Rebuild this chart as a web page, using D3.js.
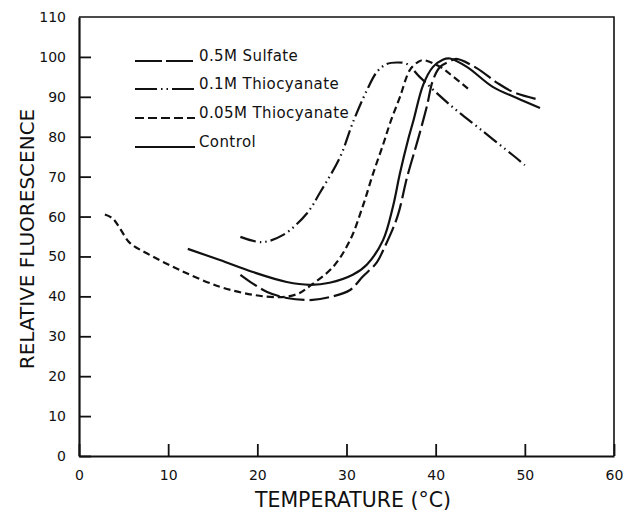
<!DOCTYPE html>
<html>
<head>
<meta charset="utf-8">
<script src="https://cdn.jsdelivr.net/npm/d3@7"></script>
<style>
  body { margin: 0; background: #fff; }
  text { font-family: "DejaVu Sans", sans-serif; fill: #111; }
</style>
</head>
<body>
<div id="chart"></div>
<script>
// data: temperature (°C) and relative fluorescence
const sulfateT = [18.1, 19.5, 21.1, 23.3, 26.2, 28.1, 30.4, 31.8, 33.4, 34.1, 35.7, 36.8, 38.0, 39.0, 39.7, 40.5, 41.6, 42.3, 44.6, 46.9, 48.7, 51.7];
const sulfateF = [45.4, 43.2, 41.1, 39.6, 39.1, 39.8, 41.6, 44.9, 48.5, 51.5, 59.9, 69.9, 79.2, 87.5, 94.2, 97.5, 98.9, 99.5, 97.2, 93.5, 91.2, 89.2];

const thio1T = [18.1, 20.5, 22.9, 25.6, 27.0, 29.3, 30.7, 32.3, 33.4, 34.5, 35.7, 36.8, 38.2, 41.6, 45.0, 48.7, 50.0];
const thio1F = [54.9, 53.6, 55.4, 60.9, 65.9, 75.0, 83.5, 91.7, 96.2, 98.2, 98.6, 98.2, 95.0, 88.0, 81.9, 75.3, 72.9];

const thio05T = [2.9, 3.8, 4.6, 5.7, 7.6, 11.3, 15.8, 19.5, 22.5, 24.5, 25.9, 28.5, 30.4, 31.8, 33.0, 34.1, 34.9, 36.0, 37.1, 38.0, 38.6, 40.5, 42.0, 43.8];
const thio05F = [60.5, 59.5, 57.0, 53.4, 50.8, 46.6, 42.4, 40.4, 39.8, 40.6, 42.6, 47.4, 54.1, 62.4, 70.9, 78.0, 83.5, 90.0, 96.7, 98.7, 99.2, 97.5, 95.0, 91.7];

const controlT = [12.2, 15.8, 19.5, 23.3, 25.9, 28.1, 30.7, 32.3, 34.1, 35.2, 36.0, 36.9, 37.5, 38.6, 39.7, 40.8, 41.6, 43.5, 46.4, 49.1, 51.7];
const controlF = [51.9, 49.1, 46.1, 43.6, 42.9, 43.4, 45.4, 48.0, 54.1, 62.4, 70.9, 79.2, 84.0, 93.0, 97.5, 99.3, 99.6, 97.5, 92.5, 89.7, 87.2];

const seriesNames = ["0.5M Sulfate", "0.1M Thiocyanate", "0.05M Thiocyanate", "Control"];
const xTicks = [0, 10, 20, 30, 40, 50, 60];
const yTicks = [0, 10, 20, 30, 40, 50, 60, 70, 80, 90, 100, 110];

const width = 625;
const height = 514;
const marginTop = 17;
const marginRight = 11;
const marginBottom = 58;
const marginLeft = 79;

const series = [
  { name: seriesNames[0], t: sulfateT, f: sulfateF, dash: "20,5", legendDash: "27,4" },
  { name: seriesNames[1], t: thio1T, f: thio1F, dash: "16,4,1.5,4,1.5,4", legendDash: "22,4,1.5,4,1.5,4" },
  { name: seriesNames[2], t: thio05T, f: thio05F, dash: "7,4", legendDash: "9,4" },
  { name: seriesNames[3], t: controlT, f: controlF, dash: null, legendDash: null }
];

const x = d3.scaleLinear().domain([0, 60]).range([marginLeft, width - marginRight]);
const y = d3.scaleLinear().domain([0, 110]).range([height - marginBottom, marginTop]);

const svg = d3.select("#chart").append("svg")
  .attr("width", width)
  .attr("height", height)
  .attr("viewBox", [0, 0, width, height]);

// frame: top and right plain lines
svg.append("path")
  .attr("d", `M${x(0)},${y(110)}H${x(60)}V${y(0)}`)
  .attr("fill", "none")
  .attr("stroke", "#111")
  .attr("stroke-width", 1.6);

// x axis, ticks pointing inward
svg.append("g")
  .attr("transform", `translate(0,${y(0)})`)
  .call(d3.axisBottom(x).tickValues(xTicks).tickSize(-12).tickPadding(11).tickSizeOuter(0))
  .call(g => g.select(".domain").attr("stroke-width", 2.2))
  .call(g => g.selectAll(".tick line").attr("stroke-width", 1.8))
  .call(g => g.selectAll(".tick text").attr("font-size", 14).attr("dy", "0.9em"));

// y axis, ticks pointing inward
svg.append("g")
  .attr("transform", `translate(${x(0)},0)`)
  .call(d3.axisLeft(y).tickValues(yTicks).tickSize(-12).tickPadding(13).tickSizeOuter(0))
  .call(g => g.select(".domain").attr("stroke-width", 2.2))
  .call(g => g.selectAll(".tick line").attr("stroke-width", 1.8))
  .call(g => g.selectAll(".tick").filter(d => d === 110).select("line").remove())
  .call(g => g.selectAll(".tick text").attr("font-size", 14));

svg.selectAll(".domain, .tick line").attr("stroke", "#111");

// axis titles
svg.append("text")
  .attr("x", 353)
  .attr("y", 507)
  .attr("text-anchor", "middle")
  .attr("font-size", 20.5)
  .text("TEMPERATURE (°C)");

svg.append("text")
  .attr("transform", "translate(34,239) rotate(-90)")
  .attr("text-anchor", "middle")
  .attr("font-size", 20)
  .text("RELATIVE FLUORESCENCE");

// curves
const line = d3.line()
  .x(d => x(d[0]))
  .y(d => y(d[1]))
  .curve(d3.curveCatmullRom.alpha(0.5));

svg.append("g")
  .selectAll("path")
  .data(series)
  .join("path")
  .attr("d", d => line(d.t.map((t, i) => [t, d.f[i]])))
  .attr("fill", "none")
  .attr("stroke", "#111")
  .attr("stroke-width", 2.2)
  .attr("stroke-dasharray", d => d.dash);

// legend
const legendY = [61, 89, 118, 147];
const legend = svg.append("g")
  .selectAll("g")
  .data(series)
  .join("g")
  .attr("transform", (d, i) => `translate(135,${legendY[i]})`);

legend.append("line")
  .attr("x1", 0)
  .attr("x2", 60)
  .attr("stroke", "#111")
  .attr("stroke-width", 2.2)
  .attr("stroke-dasharray", d => d.legendDash);

legend.append("text")
  .attr("x", 64)
  .attr("y", -0.5)
  .attr("font-size", 15)
  .attr("letter-spacing", 0.4)
  .text(d => d.name);
</script>
</body>
</html>
